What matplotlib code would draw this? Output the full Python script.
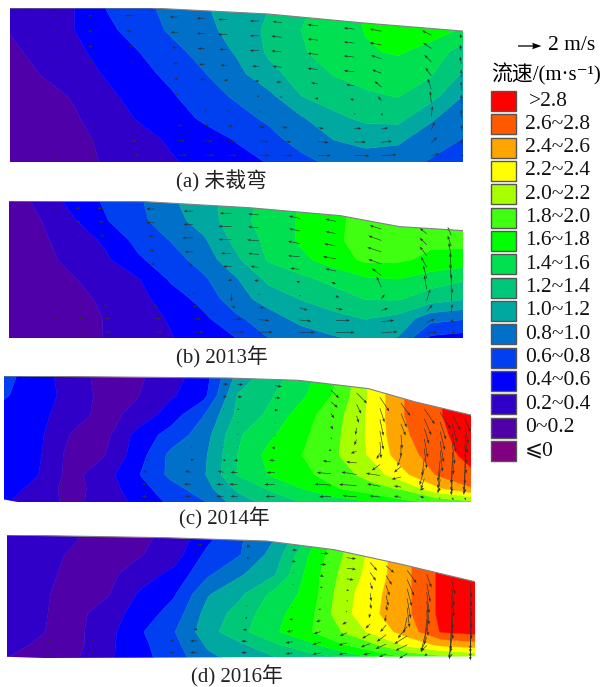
import numpy as np
import matplotlib
matplotlib.use('Agg')
import matplotlib.pyplot as plt
from matplotlib.patches import Polygon, Rectangle

W, H = 606, 687
SERIF = ['Liberation Serif', 'Noto Sans CJK SC', 'DejaVu Sans']

# velocity classes (m/s), low to high
levels = [-0.2, 0, 0.2, 0.4, 0.6, 0.8, 1.0, 1.2, 1.4, 1.6, 1.8, 2.0, 2.2, 2.4, 2.6, 2.8, 3.2]
class_colors = ['#800080', '#5000a8', '#3000c8', '#0000ff', '#0040f0', '#0070c8', '#00a8a0', '#00c878',
                '#00e050', '#00ff00', '#40ff10', '#a8ff00', '#ffff00', '#ffa500', '#ff5a00', '#ff0000']
class_labels = ['\u2a7d0', '0~0.2', '0.2~0.4', '0.4~0.6', '0.6~0.8', '0.8~1.0', '1.0~1.2', '1.2~1.4',
                '1.4~1.6', '1.6~1.8', '1.8~2.0', '2.0~2.2', '2.2~2.4', '2.4~2.6', '2.6~2.8', '>2.8']

# section outline, % of width / % of height
surf_x_a = [0, 31, 57, 78, 100]
surf_y_a = [0, 0, 3.9, 9.7, 15]
surf_x_b = [0, 30, 53, 73, 86, 100]
surf_y_b = [0, 0.5, 4.9, 10.7, 18.7, 21.6]
surf_x_c = [0, 48, 63, 78, 88, 100]
surf_y_c = [0, 1.6, 3.4, 10, 20.5, 31]
surf_x_d = [0, 34, 55.5, 70, 84.5, 100]
surf_y_d = [0, 2.2, 4.9, 12, 24, 38]
bed_x_c = [100, 3, 0]
bed_y_c = [100, 100, 98]
bed_x_d = [100, 8, 0]
bed_y_d = [98.6, 100, 99]

depth_a = [0, 14.3, 28.6, 42.9, 57.1, 71.4, 85.7, 100]
depth_b = [0, 14.3, 28.6, 42.9, 57.1, 71.4, 85.7, 100]
depth_c = [0, 15.3, 31, 46.8, 62.6, 78.4, 89.5, 100]
depth_d = [0, 16, 32, 48, 64, 78.7, 89.3, 100]

# speed read at 15 equally spaced stations
speed_a = [
    [.20, .30, .40, .61, .74, .86, .98, 1.09, 1.20, 1.36, 1.50, 1.62, 1.72, 1.72, 1.62],
    [.21, .30, .40, .55, .70, .83, .94, 1.08, 1.24, 1.40, 1.50, 1.61, 1.72, 1.68, 1.58],
    [.16, .26, .36, .47, .60, .74, .87, 1.02, 1.23, 1.38, 1.48, 1.58, 1.62, 1.53, 1.30],
    [.10, .21, .31, .42, .54, .65, .79, .94, 1.14, 1.28, 1.41, 1.47, 1.50, 1.42, 1.18],
    [.05, .13, .22, .36, .47, .58, .72, .83, .95, 1.20, 1.30, 1.37, 1.41, 1.28, 1.00],
    [.02, .09, .18, .30, .42, .52, .63, .73, .84, .98, 1.15, 1.25, 1.27, 1.03, .88],
    [.03, .06, .15, .24, .33, .43, .52, .61, .73, .88, 1.00, 1.05, 1.03, .90, .79],
    [.02, .07, .14, .22, .31, .38, .46, .54, .61, .74, .85, .92, .90, .78, .66],
]
speed_b = [
    [.08, .26, .48, .63, .77, .97, 1.12, 1.30, 1.46, 1.62, 1.76, 1.86, 1.92, 1.94, 1.92],
    [.07, .20, .38, .59, .75, .92, 1.09, 1.32, 1.49, 1.62, 1.76, 1.86, 1.90, 1.90, 1.88],
    [.06, .17, .29, .44, .67, .81, .97, 1.26, 1.45, 1.63, 1.76, 1.88, 1.88, 1.84, 1.86],
    [.05, .15, .25, .37, .57, .72, .88, 1.16, 1.42, 1.55, 1.70, 1.84, 1.83, 1.76, 1.72],
    [.03, .11, .19, .29, .39, .63, .77, .98, 1.25, 1.35, 1.46, 1.57, 1.60, 1.50, 1.42],
    [.02, .08, .14, .24, .34, .50, .67, .92, 1.08, 1.21, 1.30, 1.41, 1.42, 1.30, 1.22],
    [.01, .06, .12, .21, .32, .42, .56, .76, .92, 1.06, 1.14, 1.21, 1.14, .88, .82],
    [.01, .06, .13, .21, .30, .39, .49, .60, .80, .90, .98, 1.04, .99, .56, .52],
]
speed_c = [
    [.66, .50, .30, .13, .16, .32, .50, 1.06, 1.31, 1.52, 1.80, 2.26, 2.63, 2.79, 2.95],
    [.62, .50, .33, .14, .19, .37, .54, 1.21, 1.38, 1.58, 1.85, 2.24, 2.60, 2.78, 2.95],
    [.53, .46, .30, .13, .26, .50, .80, 1.25, 1.45, 1.72, 1.94, 2.25, 2.60, 2.78, 2.92],
    [.50, .45, .19, .13, .47, .68, .90, 1.37, 1.57, 1.77, 1.97, 2.25, 2.57, 2.75, 2.90],
    [.48, .44, .13, .19, .50, .85, .96, 1.40, 1.68, 1.81, 1.99, 2.23, 2.52, 2.70, 2.87],
    [.50, .41, .13, .31, .58, .85, .98, 1.41, 1.62, 1.75, 1.91, 2.08, 2.36, 2.62, 2.76],
    [.50, .33, .12, .29, .51, .72, .91, 1.24, 1.43, 1.61, 1.79, 1.92, 2.03, 2.36, 2.58],
    [.42, .30, .15, .27, .45, .64, .79, 1.10, 1.28, 1.42, 1.50, 1.60, 1.75, 1.85, 1.95],
]
speed_d = [
    [.28, .24, .22, .13, .15, .27, .52, .78, .98, 1.38, 1.97, 2.27, 2.56, 2.85, 2.95],
    [.28, .25, .18, .12, .19, .30, .66, .80, 1.08, 1.59, 1.98, 2.28, 2.57, 2.85, 2.95],
    [.26, .24, .16, .15, .30, .46, .77, .98, 1.18, 1.66, 2.04, 2.30, 2.57, 2.85, 2.95],
    [.25, .23, .13, .18, .43, .58, .98, 1.17, 1.46, 1.66, 2.10, 2.35, 2.57, 2.85, 2.95],
    [.24, .22, .13, .30, .49, .69, 1.08, 1.29, 1.54, 1.72, 2.12, 2.37, 2.57, 2.85, 2.95],
    [.22, .21, .14, .33, .58, .79, 1.12, 1.35, 1.57, 1.77, 2.00, 2.27, 2.50, 2.82, 2.87],
    [.24, .18, .13, .35, .55, .74, 1.03, 1.17, 1.37, 1.54, 1.78, 1.98, 2.26, 2.45, 2.52],
    [.20, .15, .17, .36, .54, .70, .95, 1.07, 1.18, 1.30, 1.40, 1.62, 1.80, 1.90, 1.98],
]

# vectors: stations in % of width, rows as fraction of local depth
arrow_rows = [.05, .15, .25, .355, .455, .557, .66, .76, .857, .955]
arrow_x_a = [4, 10, 18, 27, 37, 43, 48, 55, 60, 68, 76, 82, 93, 99.6]
arrow_x_b = [3, 5.3, 10, 15.6, 21, 32, 40.5, 49, 55, 64, 72, 82, 92, 97.4]
arrow_x_c = [12.6, 30.5, 40, 47, 50, 58, 70, 75.5, 80.5, 85, 90, 93.4, 96, 98.7]
arrow_x_d = [9.3, 18.5, 35.6, 40.6, 51.3, 61, 67, 72.6, 77.6, 81, 85.5, 89.7, 95, 99]

u_a = [
    [-.1, -.2, -.3, -.6, -.7, -.7, -.8, -.8, -.8, -.9, -.9, -1.0, -.8, -.1],
    [-.1, -.2, -.3, -.5, -.6, -.7, -.8, -.8, -.9, -.9, -.9, -1.0, -.7, -.1],
    [-.1, -.1, -.3, -.3, -.5, -.6, -.7, -.8, -.9, -.9, -.9, -.9, -.6, -.1],
    [0, -.1, -.2, -.2, -.4, -.5, -.6, -.6, -.8, -.9, -.9, -.8, -.5, 0],
    [0, 0, -.1, -.1, -.3, -.4, -.3, -.4, -.5, -.6, -.7, -.6, -.3, 0],
    [0, 0, 0, -.1, -.2, -.1, -.1, -.2, -.2, -.3, -.4, -.3, -.1, 0],
    [0, 0, .1, .1, .1, .2, .2, .1, .1, 0, .1, .1, .1, 0],
    [.1, .1, .2, .2, .4, .4, .5, .5, .5, .5, .6, .6, .3, .1],
    [.1, .2, .3, .4, .6, .7, .7, .8, .8, .9, 1.0, .9, .5, .1],
    [.1, .3, .4, .6, .8, .8, .8, .9, .9, 1.1, 1.3, 1.3, .7, .2],
]
v_a = [
    [0, 0, 0, 0, 0, 0, 0, 0, .1, .1, .1, .2, .4, .3],
    [0, 0, 0, 0, 0, 0, 0, 0, .1, .1, .1, .2, .5, .5],
    [0, 0, 0, 0, 0, 0, 0, 0, .1, .1, .1, .3, .6, .6],
    [0, 0, 0, 0, 0, 0, 0, 0, .1, .1, .1, .3, .7, .7],
    [0, 0, 0, 0, 0, 0, 0, 0, 0, .1, .1, .5, .9, .8],
    [0, 0, 0, 0, 0, 0, 0, 0, 0, 0, .1, .4, 1.0, .8],
    [0, 0, 0, 0, 0, 0, 0, 0, 0, 0, .1, .2, .9, .7],
    [0, 0, 0, 0, 0, 0, 0, -.1, -.1, -.1, 0, .1, .7, .5],
    [0, 0, 0, -.1, -.1, -.1, -.1, -.1, -.1, -.1, 0, .1, .5, .3],
    [0, 0, 0, 0, 0, 0, 0, 0, 0, 0, 0, .1, .2, .1],
]
u_b = [
    [0, 0, -.2, -.4, -.6, -.7, -.8, -1.0, -.9, -.9, -.9, -1.0, -.6, -.3],
    [0, 0, -.1, -.3, -.5, -.7, -.8, -1.1, -.9, -.9, -.9, -1.1, -.6, -.3],
    [0, 0, -.1, -.2, -.4, -.5, -.9, -1.1, -1.0, -1.0, -1.0, -1.2, -.6, -.2],
    [0, 0, -.1, -.1, -.2, -.4, -.7, -.9, -.9, -1.0, -1.1, -1.1, -.5, -.1],
    [0, 0, 0, 0, -.1, -.3, -.4, -.7, -.7, -.8, -.9, -.8, -.3, -.1],
    [0, 0, 0, 0, 0, -.1, -.1, -.3, -.4, -.3, -.4, -.4, -.2, 0],
    [0, 0, 0, .1, .1, .1, .2, 0, .1, .1, .3, .3, .3, .1],
    [0, .1, .2, .2, .3, .3, .4, .4, .5, .7, .6, .6, .5, .1],
    [0, .1, .2, .3, .5, .6, .7, .9, .9, 1.0, 1.2, 1.1, .7, .2],
    [0, .1, .2, .4, .6, .7, .9, 1.1, 1.2, 1.3, 1.6, 1.4, .9, .4],
]
v_b = [
    [0, 0, 0, 0, 0, 0, 0, 0, .1, .2, .2, .3, .5, .7],
    [0, 0, 0, 0, 0, 0, 0, 0, .1, .2, .2, .4, .6, .9],
    [0, 0, 0, 0, 0, 0, 0, 0, .1, .2, .2, .4, .8, 1.2],
    [0, .1, 0, 0, 0, 0, 0, 0, .1, .1, .2, .4, .9, 1.3],
    [.1, .1, 0, 0, 0, 0, 0, 0, .1, .1, .2, .6, 1.1, 1.3],
    [0, .1, 0, 0, 0, 0, 0, -.1, 0, .1, .1, .9, 1.2, 1.4],
    [0, 0, 0, 0, 0, 0, -.1, -.7, -.1, -.1, -.1, .4, 1.0, 1.1],
    [0, 0, 0, -.1, -.1, -.1, -.1, -.1, -.1, -.2, -.1, .2, .6, .7],
    [0, 0, 0, 0, 0, 0, 0, 0, -.1, -.1, 0, .1, .3, .3],
    [0, 0, 0, 0, 0, 0, 0, 0, 0, 0, 0, .1, .1, .1],
]
u_c = [
    [0, 0, 0, .4, .5, .6, .7, .9, .8, .8, .9, .9, .7, .5],
    [0, 0, .1, .3, .4, .5, .6, .4, .4, .5, .6, .5, .4, .3],
    [0, 0, 0, .1, .2, .3, .3, .2, .3, .4, .4, .4, .3, .2],
    [0, 0, 0, 0, .1, .1, .2, -.1, .3, .1, .3, .3, .2, .1],
    [0, 0, 0, 0, .1, 0, .1, -.2, .1, 0, .2, .2, .1, .1],
    [0, .1, .1, -.1, -.1, -.3, -.2, -.5, -.3, -.3, -.2, -.2, -.1, 0],
    [0, .2, .3, .2, -.3, -.5, -.7, -.9, -.7, -.6, -.4, -.2, -.1, -.1],
    [.2, -.3, -.5, -.5, -.6, -.7, -1.2, -1.3, -1.2, -.8, -.3, -.2, -.1, -.1],
    [-.2, -.4, -.6, -.6, -.7, -.9, -1.4, -1.5, -1.1, -.6, -.4, -.2, -.1, 0],
    [-.2, -.4, -.5, -.6, -.6, -.8, -1.0, -1.2, -.9, -.6, -.4, -.1, .1, .1],
]
v_c = [
    [0, 0, 0, 0, 0, -.1, -.7, -.9, -1.2, -1.1, -1.3, -1.4, -1.3, -1.2],
    [0, 0, 0, 0, 0, 0, -.5, -.8, -1.2, -1.2, -1.4, -1.5, -1.5, -1.4],
    [0, 0, 0, 0, 0, 0, -.4, -.6, -1.4, -1.0, -1.3, -1.6, -1.6, -1.5],
    [0, 0, 0, 0, 0, 0, -.3, -.6, -1.6, -1.2, -1.6, -1.8, -1.8, -1.6],
    [0, 0, 0, 0, 0, -.1, -.1, -.5, -1.4, -1.0, -1.7, -1.8, -1.9, -1.7],
    [0, 0, 0, 0, 0, 0, -.1, -.2, -.5, -.9, -1.5, -1.8, -1.9, -1.8],
    [0, 0, 0, -.1, -.1, 0, .1, .1, -.5, -.5, -1.4, -1.6, -1.7, -1.6],
    [0, .1, .1, .1, 0, 0, .1, .2, .2, -.2, -.9, -1.2, -1.3, -1.2],
    [0, 0, 0, 0, 0, 0, .1, .1, .2, .1, -.2, -.2, -.3, -.3],
    [0, 0, 0, 0, 0, 0, 0, .1, .1, .1, .1, -.1, -.2, -.2],
]
u_d = [
    [0, 0, 0, .5, .3, .4, .7, .8, .6, .7, .8, .4, .3, .1],
    [0, 0, 0, .1, .2, .3, .5, .8, .5, .5, .6, .3, .2, .1],
    [0, 0, 0, -.1, 0, .1, .3, .6, .2, .3, .4, .2, .2, .1],
    [0, 0, 0, 0, 0, .1, .2, .2, .1, .2, .3, .2, .1, .1],
    [0, 0, 0, 0, 0, 0, .1, .1, .1, .1, .2, .1, .1, .1],
    [0, 0, 0, 0, -.1, -.1, -.2, -.1, -.1, -.1, -.3, -.2, -.1, 0],
    [0, 0, 0, -.1, -.2, -.3, -.4, -.4, -.4, -.5, -.8, -.5, -.2, 0],
    [.1, .1, -.1, -.3, -.4, -.5, -.6, -.6, -.7, -.8, -1.1, -.5, -.2, 0],
    [-.3, -.2, -.3, -.6, -.5, -.6, -.7, -.7, -.8, -.9, -1.0, -.5, -.1, 0],
    [-.2, -.2, -.3, -.6, -.5, -.6, -.7, -.7, -.6, -.6, -.7, -.2, 0, 0],
]
v_d = [
    [0, 0, 0, 0, 0, 0, 0, -.1, -.7, -.6, -1.1, -1.1, -1.2, -1.1],
    [0, 0, 0, 0, 0, 0, 0, -.1, -.7, -.8, -1.4, -1.6, -1.5, -1.2],
    [0, 0, 0, 0, 0, 0, -.1, -.1, -.6, -.9, -1.5, -1.8, -1.7, -1.4],
    [0, 0, 0, 0, 0, 0, -.1, -.1, -.7, -.9, -1.7, -2.0, -2.0, -1.7],
    [0, 0, 0, 0, 0, 0, 0, -.1, -.5, -.5, -1.7, -2.2, -2.2, -2.0],
    [0, 0, 0, 0, 0, 0, 0, -.1, -.4, -.6, -1.4, -2.2, -2.4, -2.2],
    [0, 0, 0, 0, 0, 0, -.1, -.2, -.4, -.6, -1.0, -2.0, -2.4, -2.2],
    [0, 0, 0, 0, 0, -.1, -.2, -.3, -.4, -.6, -.7, -1.3, -1.8, -1.8],
    [.1, 0, 0, 0, 0, -.1, -.2, -.2, -.3, -.4, -.5, -.5, -.5, -.5],
    [0, 0, 0, 0, 0, -.1, -.1, -.1, -.1, -.3, -.4, -.2, -.2, -.1],
]

captions = ['(a) \u672a\u88c1\u5f2f', '(b) 2013\u5e74', '(c) 2014\u5e74', '(d) 2016\u5e74']

ARROW_SCALE = 8.55  # 1 m/s is about 12 px


def px_axes(fig, x0, y0, x1, y1):
    return fig.add_axes([x0 / W, 1 - y1 / H, (x1 - x0) / W, (y1 - y0) / H])


def draw_section(fig, box, speed, depth, sx, sy, bx, by, ax_x, u, v):
    ax = px_axes(fig, *box)
    ax.set_xlim(0, 100)
    ax.set_ylim(100, 0)
    ax.axis('off')

    outline = Polygon(list(zip(sx, sy)) + list(zip(bx, by)), closed=True, transform=ax.transData)
    stations = np.linspace(0, 100, len(speed[0]))
    cs = ax.contourf(stations, depth, np.array(speed), levels=levels, colors=class_colors, antialiased=True)
    cs.set_edgecolor('face')
    cs.set_linewidth(0.3)
    cs.set_clip_path(outline)
    ax.plot(sx, sy, color='#808080', lw=0.8)

    qx, qy = [], []
    for frac in arrow_rows:
        for x in ax_x:
            top = np.interp(x, sx, sy)
            qx.append(x)
            qy.append(top + frac * (100 - top))
    ax.quiver(qx, qy, np.ravel(u), np.ravel(v), angles='uv', scale=ARROW_SCALE, scale_units='inches',
              width=0.8 / W, headwidth=4.5, headlength=6, headaxislength=5.5, minlength=0.4,
              color='#303030', clip_on=False)


fig = plt.figure(figsize=(W / 100, H / 100), dpi=100)

draw_section(fig, (10, 8, 463, 162), speed_a, depth_a, surf_x_a, surf_y_a, [100, 0], [100, 100], arrow_x_a, u_a, v_a)
draw_section(fig, (9, 201, 463, 338), speed_b, depth_b, surf_x_b, surf_y_b, [100, 0], [100, 100], arrow_x_b, u_b, v_b)
draw_section(fig, (4, 376, 471, 502), speed_c, depth_c, surf_x_c, surf_y_c, bed_x_c, bed_y_c, arrow_x_c, u_c, v_c)
draw_section(fig, (7, 535, 475, 658), speed_d, depth_d, surf_x_d, surf_y_d, bed_x_d, bed_y_d, arrow_x_d, u_d, v_d)

# overlay in image pixels for captions and legend
over = fig.add_axes([0, 0, 1, 1], facecolor='none')
over.set_xlim(0, W)
over.set_ylim(H, 0)
over.axis('off')

for (cx, cy), cap in zip([(222, 181), (222, 357), (224, 518), (237, 676)], captions):
    over.text(cx, cy, cap, family=SERIF, fontsize=15, color='#222222', ha='center', va='center')

over.quiver([518], [46], [2], [0], angles='uv', scale=ARROW_SCALE, scale_units='inches', width=1.3 / W,
            headwidth=5, headlength=7, headaxislength=6.5, color='black')
over.text(548, 46, '2 m/s', family=SERIF, fontsize=15.5, ha='left', va='center')
over.text(491, 74, '\u6d41\u901f/(m\u00b7s\u207b\u00b9)', family=SERIF, fontsize=15, ha='left', va='center')

# legend boxes, highest class first
for i, (col, lab) in enumerate(zip(class_colors[::-1], class_labels[::-1])):
    y = 91 + i * 23.33
    over.add_patch(Rectangle((491, y), 25, 20, facecolor=col, edgecolor='#555555', lw=1))
    over.text(525 if i else 529, y + 10, lab, family=SERIF, fontsize=15.5, ha='left', va='center', color='#111111')

fig.savefig('out.png', dpi=100)
